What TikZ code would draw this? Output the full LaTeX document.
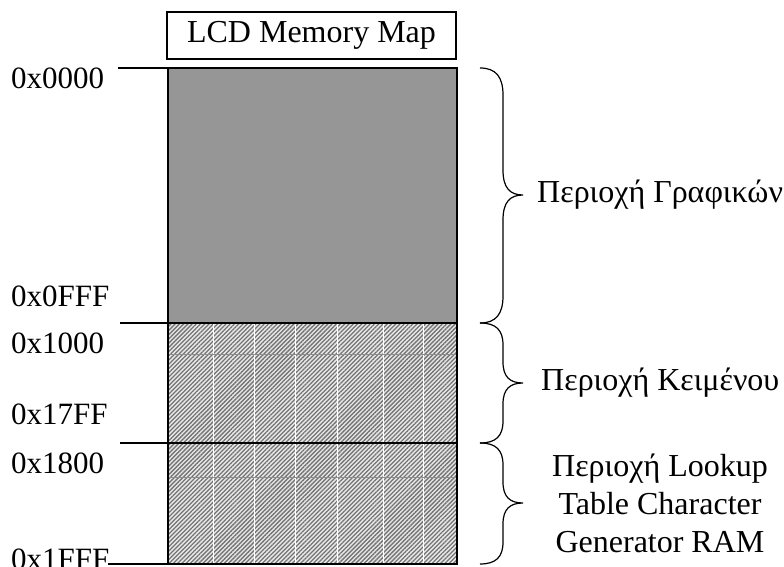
\documentclass[tikz,border=0pt]{standalone}
\usepackage{fontspec}
\setmainfont{Liberation Serif}
\usetikzlibrary{patterns.meta}
\tikzset{
  addr/.style={anchor=west, inner sep=0pt, font=\fontsize{31}{38}\selectfont},
  region/.style={anchor=west, inner sep=0pt, font=\fontsize{32}{38}\selectfont},
  bracepath/.style={line width=1.2pt},
  tick/.style={line width=1.3pt},
  hatch/.style={pattern={Lines[angle=45,distance=3pt,line width=1.3pt]}, pattern color=black!55},
  sepline/.style={white, line width=1pt},
  midline/.style={gray!90, line width=1pt},
  border/.style={draw=black, line width=1.6pt}
}
\begin{document}
\begin{tikzpicture}[x=1pt,y=-1pt]
\useasboundingbox (0,0) rectangle (784,567);
% title
\node[draw, line width=1.2pt, minimum width=289pt, minimum height=47pt, inner sep=0pt,
      font=\fontsize{32}{38}\selectfont] (title) at (311.5,35.5) {LCD Memory Map};
% regions
\coordinate (tl) at (168,68);
\coordinate (m1) at (457,323);
\coordinate (l1) at (168,323);
\coordinate (m2) at (457,443);
\coordinate (l2) at (168,443);
\coordinate (br) at (457,564);
\fill[gray!82] (tl) rectangle (m1);
\fill[gray!18] (l1) rectangle (br);
\path[hatch] (l1) rectangle (br);
\foreach \x in {213,254,295,337,383,423} \draw[sepline] (\x,323) -- (\x,564);
\draw[midline] (168,354) -- (457,354);
\draw[midline] (168,477) -- (457,477);
\draw[border] (tl) rectangle (m1);
\draw[border] (l1) rectangle (m2);
\draw[border] (l2) rectangle (br);
% ticks
\coordinate (t0) at (118,68);
\coordinate (t1) at (120,323);
\coordinate (t2) at (120,443);
\coordinate (t3) at (108,564);
\draw[tick] (t0) -- (tl);
\draw[tick] (t1) -- (l1);
\draw[tick] (t2) -- (l2);
\draw[tick] (t3) -- (168,564);
% addresses
\node[addr] (a0) at (11,78) {0x0000};
\node[addr] (a1) at (11,296) {0x0FFF};
\node[addr] (a2) at (11,343) {0x1000};
\node[addr] (a3) at (11,414) {0x17FF};
\node[addr] (a4) at (11,463) {0x1800};
\node[addr] (a5) at (11,559) {0x1FFF};
% braces
\draw[bracepath] (480,68) .. controls (496,68) and (503,77) .. (503,95) -- (503,170)
  .. controls (503,188) and (510,195) .. (523,195)
  .. controls (510,195) and (503,202) .. (503,220) -- (503,296)
  .. controls (503,314) and (496,323) .. (480,323);
\draw[bracepath] (480,323) .. controls (496,323) and (503,330) .. (503,345) -- (503,362)
  .. controls (503,377) and (510,383) .. (523,383)
  .. controls (510,383) and (503,389) .. (503,404) -- (503,421)
  .. controls (503,436) and (496,443) .. (480,443);
\draw[bracepath] (480,443) .. controls (496,443) and (503,450) .. (503,465) -- (503,482)
  .. controls (503,497) and (510,503) .. (523,503)
  .. controls (510,503) and (503,509) .. (503,524) -- (503,542)
  .. controls (503,557) and (496,564) .. (480,564);
% region labels
\node[region] (r1) at (537,195) {Περιοχή Γραφικών};
\node[region] (r2) at (541,383) {Περιοχή Κειμένου};
\node[inner sep=0pt, align=center, font=\fontsize{32}{38}\selectfont] (r3) at (660,503)
  {Περιοχή Lookup\\Table Character\\Generator RAM};
\end{tikzpicture}
\end{document}
